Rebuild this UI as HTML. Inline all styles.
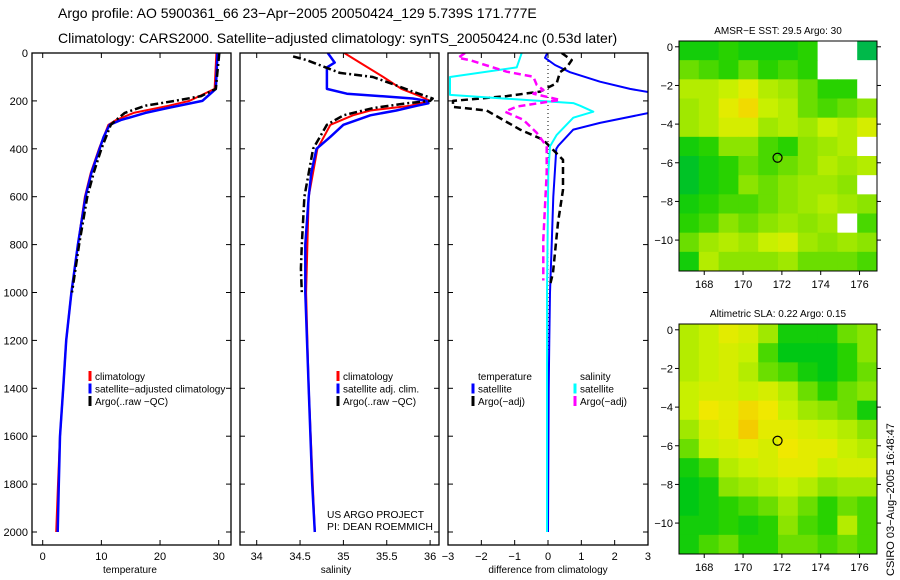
<!DOCTYPE html>
<html><head><meta charset="utf-8"><style>
html,body{margin:0;padding:0;background:#fff;width:900px;height:580px;overflow:hidden}
svg text{font-family:"Liberation Sans",sans-serif;fill:#000}
</style></head><body>
<svg id="fig" width="900" height="580" viewBox="0 0 900 580" xmlns="http://www.w3.org/2000/svg">
<text x="58" y="18" font-size="14">Argo profile: AO 5900361_66 23−Apr−2005 20050424_129 5.739S 171.777E</text>
<text x="58" y="43" font-size="14">Climatology: CARS2000. Satellite−adjusted climatology: synTS_20050424.nc (0.53d later)</text>
<g id="g"></g>
</svg>
<script>
// ---- profile data (depth in m) ----
const tDepthBlue=[0,150,200,230,250,280,300,350,400,500,600,800,1000,1200,1400,1600,1800,2000];
const tBlue=[29.8,29.5,27.2,21.2,17.5,13.3,11.4,10.4,9.7,8.3,7.3,6.0,4.9,4.0,3.5,2.95,2.75,2.55];
const tDepthRed=[0,150,200,220,250,280,300,400,500,600,800,1000,1200,1400,1600,1800,2000];
const tRed=[29.6,29.3,25,21.5,15.5,12.5,11.2,9.6,8.2,7.2,6.0,4.9,4.0,3.5,2.95,2.6,2.3];
const tDepthArgo=[0,150,180,200,220,250,280,300,400,500,600,800,1000];
const tArgo=[30.1,29.5,27,22.5,17.5,14,12.5,11.6,10,8.7,7.6,6.2,5.0];

const sDepthBlue=[0,40,60,150,170,190,200,210,220,240,260,300,350,400,500,600,800,1000,1400,1800,2000];
const sBlue=[34.82,34.90,34.81,34.81,35.04,35.80,35.96,35.98,35.85,35.61,35.31,35.0,34.85,34.69,34.63,34.60,34.56,34.56,34.60,34.64,34.67];
const sDepthRed=[0,40,100,150,180,200,220,240,260,300,400,600,1000,1400,2000];
const sRed=[35.01,35.19,35.46,35.67,35.88,36.0,35.77,35.31,35.11,34.85,34.70,34.60,34.57,34.60,34.67];
const sDepthArgo=[14,30,83,100,130,160,190,200,210,230,260,300,400,600,800,900,1000];
const sArgo=[34.42,34.58,34.96,35.34,35.57,35.79,36.03,36.0,35.73,35.34,35.0,34.81,34.65,34.55,34.52,34.51,34.52];

const dDepthTS=[0,20,50,80,120,150,170,230,251,292,320,387,400,600,800,1000,1200,1400,2000];
const dTS=[-0.02,-0.09,0.21,0.66,1.56,2.46,3.3,3.3,3.0,1.56,0.76,0.31,0.25,0.16,0.11,0.06,0.04,0.02,0];
const dDepthTA=[0,30,60,80,126,161,180,200,225,240,320,362,404,446,571,708,917,975];
const dTA=[0.41,0.71,0.56,0.36,0.26,-0.24,-1.24,-2.85,-2.85,-1.84,-0.84,-0.15,0.15,0.45,0.45,0.30,0.15,0.05];
const dDepthSS=[0,60,100,175,209,220,245,270,342,390,500,1000,2000];
const dSS=[-0.79,-0.94,-2.94,-2.94,0.76,0.96,1.36,0.76,0.26,0.06,0.01,-0.03,-0.03];
const dDepthSA=[0,20,30,78,99,133,154,170,196,224,245,279,333,390,500,780,950];
const dSA=[-2.49,-2.69,-2.34,-1.24,-0.44,-0.34,-0.14,-0.44,0.36,-0.94,-1.29,-0.74,-0.34,-0.04,-0.04,-0.14,-0.14];

const depthTicks=[0,200,400,600,800,1000,1200,1400,1600,1800,2000];
const tTicks=[0,10,20,30];
const sTicks=[34,34.5,35,35.5,36];
const sTickLabels=["34","34.5","35","35.5","36"];
const dTicks=[-3,-2,-1,0,1,2,3];

// ---- map data (rows lat 0.3..-11.6, cols lon 166.7..176.9), value 0..1, null = missing ----
const sstGrid=[
[0.3,0.3,0.35,0.3,0.3,0.3,0.35,null,null,0.1],
[0.45,0.4,0.35,0.45,0.35,0.4,0.35,null,null,null],
[0.6,0.6,0.65,0.75,0.6,0.55,0.45,0.35,0.35,null],
[0.55,0.6,0.75,0.85,0.65,0.6,0.45,0.4,0.45,0.5],
[0.55,0.6,0.7,0.7,0.55,0.6,0.55,0.65,0.6,0.7],
[0.3,0.35,0.5,0.5,0.4,0.35,0.5,0.55,0.6,null],
[0.2,0.3,0.35,0.45,0.4,0.45,0.5,0.6,0.55,0.6],
[0.2,0.3,0.35,0.5,0.45,0.5,0.55,0.55,0.5,null],
[0.3,0.35,0.4,0.4,0.45,0.5,0.55,0.6,0.55,0.5],
[0.35,0.4,0.5,0.45,0.5,0.55,0.5,0.55,null,0.4],
[0.45,0.55,0.6,0.55,0.65,0.7,0.55,0.5,0.55,0.5],
[0.3,0.6,0.5,0.5,0.5,0.55,0.45,0.45,0.45,0.4]];
const slaGrid=[
[0.6,0.65,0.75,0.7,0.55,0.3,0.3,0.3,0.45,0.5],
[0.6,0.65,0.7,0.65,0.4,0.25,0.25,0.25,0.35,0.5],
[0.6,0.65,0.7,0.6,0.45,0.4,0.3,0.25,0.35,0.45],
[0.65,0.7,0.7,0.65,0.7,0.6,0.45,0.35,0.45,0.5],
[0.65,0.8,0.75,0.85,0.8,0.65,0.55,0.5,0.45,0.3],
[0.55,0.7,0.75,0.9,0.75,0.75,0.7,0.65,0.6,0.5],
[0.45,0.65,0.7,0.75,0.7,0.8,0.75,0.75,0.65,0.6],
[0.3,0.4,0.6,0.65,0.7,0.75,0.75,0.65,0.7,0.7],
[0.25,0.3,0.5,0.55,0.6,0.65,0.6,0.5,0.55,0.55],
[0.25,0.3,0.35,0.4,0.45,0.55,0.45,0.35,0.45,0.4],
[0.3,0.3,0.35,0.3,0.35,0.5,0.4,0.35,0.6,0.4],
[0.3,0.4,0.45,0.35,0.35,0.45,0.45,0.4,0.45,0.4]];
const lonTicks=[168,170,172,174,176];
const latTicks=[0,-2,-4,-6,-8,-10];
const argoLon=171.777, argoLat=-5.739;

const NS="http://www.w3.org/2000/svg";
const G=document.getElementById('g');
function el(tag,attrs,parent){const e=document.createElementNS(NS,tag);for(const k in attrs)e.setAttribute(k,attrs[k]);(parent||G).appendChild(e);return e;}
function txt(x,y,s,size,anchor,parent){const t=el('text',{x:x,y:y,'font-size':size,'text-anchor':anchor||'start'},parent);t.textContent=s;return t;}

const Y0=53, PXM=0.2395;
const yD=d=>Y0+d*PXM;
const panels=[
 {x0:32,x1:231,name:'temperature-panel',xs:v=>42.7+v*5.867,ticks:tTicks,labels:tTicks.map(String),xl:'temperature',lx:130,ylab:true},
 {x0:240,x1:439,name:'salinity-panel',xs:v=>256.7+(v-34)*86.7,ticks:sTicks,labels:sTickLabels,xl:'salinity',lx:336},
 {x0:448,x1:648,name:'difference-panel',xs:v=>548+v*33.33,ticks:dTicks,labels:dTicks.map(v=>v<0?'−'+(-v):String(v)),xl:'difference from climatology',lx:548}
];
const PB=545;
panels.forEach((p,i)=>{
 const g=el('g',{});
 
 
 const cid='clip'+i;
 const cp=el('clipPath',{id:cid},g);el('rect',{x:p.x0,y:Y0,width:p.x1-p.x0,height:PB-Y0},cp);
 p.g=el('g',{'clip-path':'url(#'+cid+')'},g);
 const fr=el('rect',{x:p.x0,y:Y0,width:p.x1-p.x0,height:PB-Y0,fill:'none',stroke:'#000','stroke-width':1.3},g);
 
 
 depthTicks.forEach(d=>{
  const y=yD(d);
  el('line',{x1:p.x0,x2:p.x0+5,y1:y,y2:y,stroke:'#000'},g);
  el('line',{x1:p.x1-5,x2:p.x1,y1:y,y2:y,stroke:'#000'},g);
  if(p.ylab){const t=txt(28,y+4,String(d),11,'end',g);
   
   }
 });
 p.ticks.forEach((v,k)=>{
  const x=p.xs(v);
  el('line',{x1:x,x2:x,y1:PB,y2:PB-5,stroke:'#000'},g);
  el('line',{x1:x,x2:x,y1:Y0,y2:Y0+5,stroke:'#000'},g);
  const t=txt(x,560,p.labels[k],11,'middle',g);
  
  
 });
 const xl=txt(p.lx,573,p.xl,10,'middle',g);
 
 
});
function line(p,depths,vals,color,w,dash,name){
 const pts=depths.map((d,k)=>p.xs(vals[k]).toFixed(1)+','+yD(d).toFixed(1)).join(' ');
 const l=el('polyline',{points:pts,fill:'none',stroke:color,'stroke-width':w,'stroke-dasharray':dash||'none','stroke-linejoin':'round'},p.g);
 
 
}
const P=panels;
line(P[0],tDepthRed,tRed,'#f00',2,null,'temp-climatology-line');
line(P[0],tDepthBlue,tBlue,'#00f',2.5,null,'temp-satellite-line');
line(P[0],tDepthArgo,tArgo,'#000',2.5,'8,3,2,3','temp-argo-line');
line(P[1],sDepthRed,sRed,'#f00',2,null,'sal-climatology-line');
line(P[1],sDepthBlue,sBlue,'#00f',2.5,null,'sal-satellite-line');
line(P[1],sDepthArgo,sArgo,'#000',2.5,'8,3,2,3','sal-argo-line');
el('line',{x1:548,x2:548,y1:Y0,y2:350,stroke:'#000','stroke-width':1,'stroke-dasharray':'1,3'},P[2].g);
line(P[2],dDepthTS,dTS,'#00f',2,null,'diff-temp-satellite-line');
line(P[2],dDepthTA,dTA,'#000',2.5,'7,4','diff-temp-argo-line');
line(P[2],dDepthSS,dSS,'#0ff',2,null,'diff-sal-satellite-line');
line(P[2],dDepthSA,dSA,'#f0f',2.5,'7,4','diff-sal-argo-line');

function legend(x,y,items,name){
 const g=el('g',{});
 
 
 items.forEach((it,k)=>{
  const yy=y+k*12.5;
  if(it[1])el('line',{x1:x,x2:x,y1:yy-9,y2:yy+1,stroke:it[1],'stroke-width':3},g);
  txt(x+5,yy,it[0],10,'start',g);
 });
}
legend(90,380,[['climatology','#f00'],['satellite−adjusted climatology','#00f'],['Argo(..raw −QC)','#000']],'temperature-legend');
legend(338,380,[['climatology','#f00'],['satellite adj. clim.','#00f'],['Argo(..raw −QC)','#000']],'salinity-legend');
legend(473,380,[['temperature',null],['satellite','#00f'],['Argo(−adj)','#000']],'diff-temp-legend');
legend(575,380,[['salinity',null],['satellite','#0ff'],['Argo(−adj)','#f0f']],'diff-sal-legend');
const u1=txt(327,518,'US ARGO PROJECT',10.5);
u1.setAttribute('textLength','97');
u1.setAttribute('lengthAdjust','spacingAndGlyphs');


const u2=txt(327,530,'PI: DEAN ROEMMICH',10.5);
u2.setAttribute('textLength','106');
u2.setAttribute('lengthAdjust','spacingAndGlyphs');



// ---- maps ----
function cmap(v){
 const stops=[[0,[0,175,110]],[0.25,[0,200,20]],[0.35,[40,210,0]],[0.5,[140,228,0]],[0.65,[200,240,0]],[0.8,[240,232,0]],[1,[245,175,0]]];
 for(let i=1;i<stops.length;i++){if(v<=stops[i][0]){const a=stops[i-1],b=stops[i],f=(v-a[0])/(b[0]-a[0]);
  return 'rgb('+a[1].map((c,j)=>Math.round(c+(b[1][j]-c)*f)).join(',')+')';}}
 return 'rgb(245,175,0)';
}
const LON0=166.7,LON1=176.9,LAT0=0.3,LAT1=-11.6;
function drawMap(grid,top,title,name){
 const X0=679,X1=877,Y1=top+230;
 const g=el('g',{});
 
 
 const xm=lon=>X0+(lon-LON0)/(LON1-LON0)*(X1-X0);
 const ym=lat=>top+(LAT0-lat)/(LAT0-LAT1)*(Y1-top);
 const nr=grid.length,nc=grid[0].length;
 const dlon=(LON1-LON0)/nc,dlat=(LAT0-LAT1)/nr;
 grid.forEach((row,r)=>row.forEach((v,c)=>{
  const lon=LON0+c*dlon,lat=LAT0-r*dlat;
  const cell=el('rect',{x:xm(lon),y:ym(lat),width:xm(lon+dlon)-xm(lon)+0.5,height:ym(lat-dlat)-ym(lat)+0.5,fill:v==null?'#fff':cmap(v)},g);
  
  
 }));
 el('rect',{x:X0,y:top,width:X1-X0,height:Y1-top,fill:'none',stroke:'#000'},g);
 lonTicks.forEach(l=>{const x=xm(l);el('line',{x1:x,x2:x,y1:Y1,y2:Y1+4,stroke:'#000'},g);
  const t=txt(x,Y1+17,String(l),11,'middle',g);
  
  });
 latTicks.forEach(l=>{const y=ym(l);el('line',{x1:X0-4,x2:X0,y1:y,y2:y,stroke:'#000'},g);
  el('line',{x1:X1,x2:X1+4,y1:y,y2:y,stroke:'#000'},g);
  const t=txt(X0-6,y+4,l<0?'−'+(-l):String(l),11,'end',g);
  
  });
 const c=el('circle',{cx:xm(argoLon),cy:ym(argoLat),r:4.5,fill:'none',stroke:'#000','stroke-width':1.2},g);
 
 
 const t=txt(778,top-7,title,10,'middle',g);
 
 
}
drawMap(sstGrid,41,'AMSR−E SST: 29.5 Argo: 30','sst-map');
drawMap(slaGrid,324,'Altimetric SLA: 0.22 Argo: 0.15','sla-map');
const cs=txt(0,0,'CSIRO 03−Aug−2005 16:48:47',11,'start');
cs.setAttribute('transform','translate(894,576) rotate(-90)');


</script>
</body></html>
